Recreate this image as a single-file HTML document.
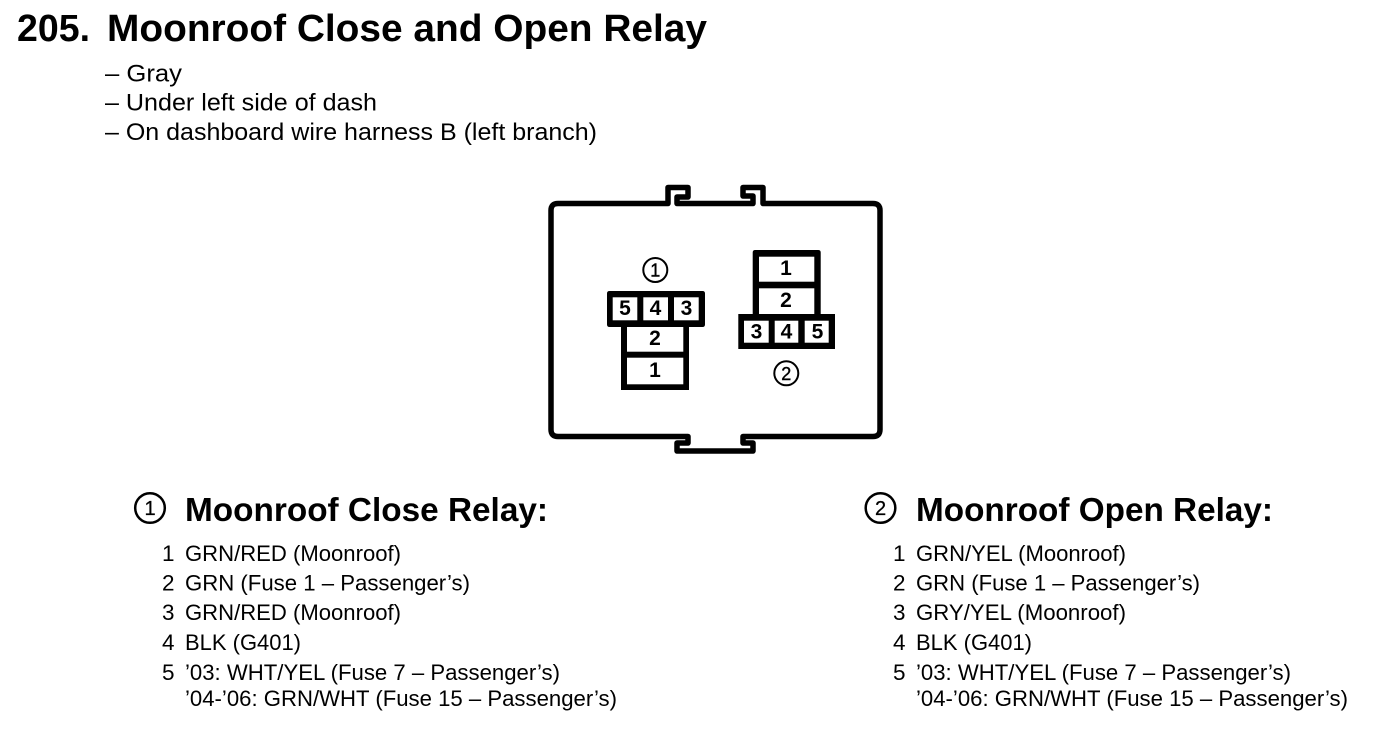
<!DOCTYPE html>
<html><head><meta charset="utf-8"><style>
html,body{margin:0;padding:0;background:#fff}
svg{display:block}
text{font-family:"Liberation Sans",Arial,sans-serif;fill:#000}
.t{font-size:38px;font-weight:bold}
.u{font-size:24px}
.b{font-size:22.5px}
.h{font-size:33px;font-weight:bold}
.d{font-size:21px;font-weight:bold;text-anchor:middle}
.c{font-size:18px;text-anchor:middle;stroke:#000;stroke-width:.4px}
.k{font-size:20px;text-anchor:middle;stroke:#000;stroke-width:.3px}
</style></head><body>
<svg width="1376" height="734" viewBox="0 0 1376 734" xmlns="http://www.w3.org/2000/svg">
<rect width="1376" height="734" fill="#fff"/>
<text class="t" x="17" y="41" textLength="73" lengthAdjust="spacingAndGlyphs">205.</text>
<text class="t" x="107" y="41" textLength="600" lengthAdjust="spacingAndGlyphs">Moonroof Close and Open Relay</text>
<text class="u" x="105" y="81.500" textLength="77" lengthAdjust="spacingAndGlyphs">– Gray</text>
<text class="u" x="105" y="110.500" textLength="272" lengthAdjust="spacingAndGlyphs">– Under left side of dash</text>
<text class="u" x="105" y="140" textLength="492" lengthAdjust="spacingAndGlyphs">– On dashboard wire harness B (left branch)</text>

<path d="M558 203.500H668V187.500H688V197H677V203.500H753V196H743V187.500H763V203.500H873Q880 203.500 880 210.500V429.500Q880 436.500 873 436.500H743V443H753V451H677V443H688V436.500H558Q551 436.500 551 429.500V210.500Q551 203.500 558 203.500Z" fill="none" stroke="#000" stroke-width="5.500" stroke-linejoin="round"/>

<path d="M609.500 291H702.500Q705 291 705 293.500V324.500Q705 327 702.500 327H689V390H621V327H609.500Q607 327 607 324.500V293.500Q607 291 609.500 291Z" fill="#000"/>
<path d="M752.700 252.500Q752.700 250 755.200 250H818.200Q820.700 250 820.700 252.500V314H835V349H738.300V314H752.700Z" fill="#000"/>
<g fill="#fff">
<rect x="612.700" y="297.300" width="24.600" height="23"/>
<rect x="643.300" y="297.300" width="24.700" height="23"/>
<rect x="674" y="297.300" width="24.700" height="23"/>
<rect x="627" y="327" width="56.300" height="24.700"/>
<rect x="627" y="357.700" width="56.300" height="26.600"/>
<rect x="759" y="256.700" width="55.300" height="25"/>
<rect x="759" y="288.300" width="55.300" height="25.700"/>
<rect x="744" y="320.700" width="24.700" height="22"/>
<rect x="774.700" y="320.700" width="23.600" height="22"/>
<rect x="804.700" y="320.700" width="24" height="22"/>
</g>
<text class="d" x="625" y="315">5</text>
<text class="d" x="655.500" y="315">4</text>
<text class="d" x="686.500" y="315">3</text>
<text class="d" x="655" y="345">2</text>
<text class="d" x="655" y="377">1</text>
<text class="d" x="786" y="275">1</text>
<text class="d" x="786" y="307">2</text>
<text class="d" x="756.500" y="338.500">3</text>
<text class="d" x="786.500" y="338.500">4</text>
<text class="d" x="817.500" y="338.500">5</text>

<circle cx="655.300" cy="270" r="12" fill="none" stroke="#000" stroke-width="2"/>
<text class="c" x="655.300" y="276.500">1</text>
<circle cx="786.300" cy="373.300" r="12" fill="none" stroke="#000" stroke-width="2"/>
<text class="c" x="786.300" y="380">2</text>

<circle cx="150" cy="508" r="14.800" fill="none" stroke="#000" stroke-width="2.500"/>
<text class="k" x="150" y="515">1</text>
<circle cx="880.500" cy="508" r="14.800" fill="none" stroke="#000" stroke-width="2.500"/>
<text class="k" x="880.500" y="515">2</text>

<text class="h" x="185" y="521" textLength="363" lengthAdjust="spacingAndGlyphs">Moonroof Close Relay:</text>
<text class="h" x="916" y="521" textLength="357" lengthAdjust="spacingAndGlyphs">Moonroof Open Relay:</text>

<text class="b" x="162" y="561">1</text>
<text class="b" x="162" y="590.500">2</text>
<text class="b" x="162" y="620">3</text>
<text class="b" x="162" y="650">4</text>
<text class="b" x="162" y="680">5</text>
<text class="b" x="185" y="561" textLength="216" lengthAdjust="spacingAndGlyphs">GRN/RED (Moonroof)</text>
<text class="b" x="185" y="590.500" textLength="285" lengthAdjust="spacingAndGlyphs">GRN (Fuse 1 – Passenger’s)</text>
<text class="b" x="185" y="620" textLength="216" lengthAdjust="spacingAndGlyphs">GRN/RED (Moonroof)</text>
<text class="b" x="185" y="650" textLength="116" lengthAdjust="spacingAndGlyphs">BLK (G401)</text>
<text class="b" x="185" y="680" textLength="375" lengthAdjust="spacingAndGlyphs">’03: WHT/YEL (Fuse 7 – Passenger’s)</text>
<text class="b" x="185" y="706" textLength="432" lengthAdjust="spacingAndGlyphs">’04-’06: GRN/WHT (Fuse 15 – Passenger’s)</text>

<text class="b" x="893" y="561">1</text>
<text class="b" x="893" y="590.500">2</text>
<text class="b" x="893" y="620">3</text>
<text class="b" x="893" y="650">4</text>
<text class="b" x="893" y="680">5</text>
<text class="b" x="916" y="561" textLength="210" lengthAdjust="spacingAndGlyphs">GRN/YEL (Moonroof)</text>
<text class="b" x="916" y="590.500" textLength="284" lengthAdjust="spacingAndGlyphs">GRN (Fuse 1 – Passenger’s)</text>
<text class="b" x="916" y="620" textLength="210" lengthAdjust="spacingAndGlyphs">GRY/YEL (Moonroof)</text>
<text class="b" x="916" y="650" textLength="116" lengthAdjust="spacingAndGlyphs">BLK (G401)</text>
<text class="b" x="916" y="680" textLength="375" lengthAdjust="spacingAndGlyphs">’03: WHT/YEL (Fuse 7 – Passenger’s)</text>
<text class="b" x="916" y="706" textLength="432" lengthAdjust="spacingAndGlyphs">’04-’06: GRN/WHT (Fuse 15 – Passenger’s)</text>
</svg>
</body></html>
